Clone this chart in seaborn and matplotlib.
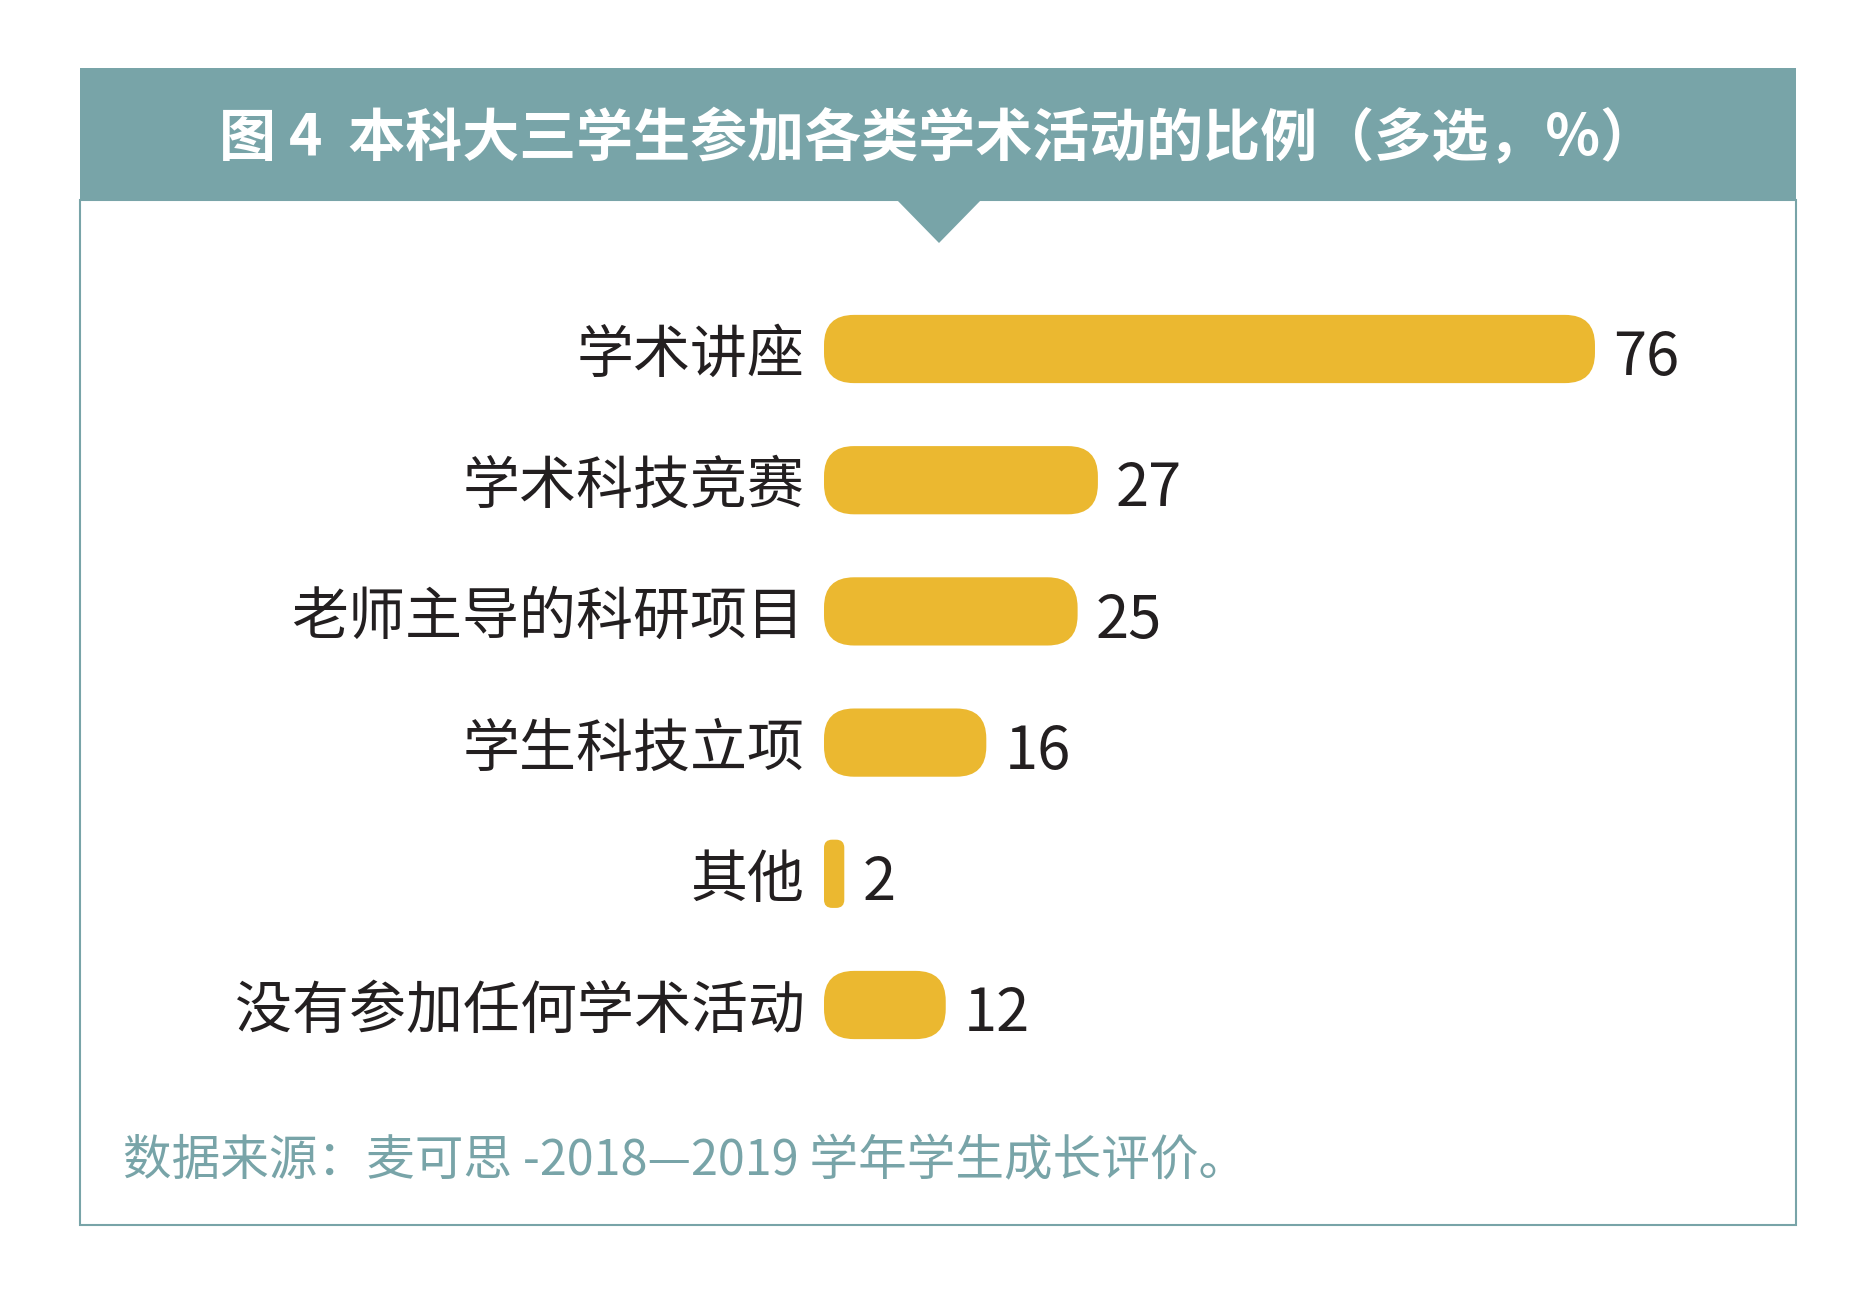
import numpy as np
import pandas as pd
import matplotlib
matplotlib.use("Agg")
import matplotlib.pyplot as plt
import seaborn as sns
from matplotlib.patches import FancyBboxPatch, Rectangle, Polygon

# chart data
categories = ["学术讲座", "学术科技竞赛", "老师主导的科研项目", "学生科技立项", "其他", "没有参加任何学术活动"]
values = [76, 27, 25, 16, 2, 12]

title = "图 4  本科大三学生参加各类学术活动的比例（多选，%）"
source = "数据来源：麦可思 -2018—2019 学年学生成长评价。"

TEAL = "#78A4A8"
BAR = "#EBB830"
DARK = "#231F20"

sns.set_theme(style="white")
plt.rcParams['font.family'] = ['Noto Sans CJK SC', 'DejaVu Sans']

W, H = 1876, 1295
fig = plt.figure(figsize=(W / 100, H / 100), dpi=100)
fig.patch.set_facecolor("white")


def fx(px):
    return px / W


def fy(py):
    return 1 - py / H


# frame, header band and pointer
fig.patches.append(Rectangle((fx(80), fy(1225)), fx(1796) - fx(80), fy(200) - fy(1225),
                             transform=fig.transFigure, facecolor="none",
                             edgecolor=TEAL, linewidth=1.5))
fig.patches.append(Rectangle((fx(80), fy(200)), fx(1796) - fx(80), fy(68) - fy(200),
                             transform=fig.transFigure, facecolor=TEAL, edgecolor="none"))
fig.patches.append(Polygon([(fx(896), fy(199)), (fx(982), fy(199)), (fx(939), fy(243))],
                           closed=True, transform=fig.transFigure,
                           facecolor=TEAL, edgecolor="none"))

fig.text(fx(938), fy(139), title, color="white", fontsize=41, fontweight="bold",
         ha="center", va="center")
fig.text(fx(123), fy(1162), source, color=TEAL, fontsize=35, ha="left", va="center")

# bar area
row = 131.2
top_px = 349 - row / 2
ax = fig.add_axes([fx(824), fy(top_px + 6 * row), fx(913), (6 * row) / H])

df = pd.DataFrame({"cat": categories, "val": values})
sns.barplot(data=df, x="val", y="cat", color=BAR, width=0.52, saturation=1, ax=ax)
ax.set_xlim(0, 90)
ax.set_ylim(5.5, -0.5)

for s in ax.spines.values():
    s.set_visible(False)
ax.set_xticks([])
ax.set_xlabel("")
ax.set_ylabel("")
ax.tick_params(axis="y", length=0, pad=14, labelsize=41, labelcolor=DARK)

# round the bar ends
fig.canvas.draw()
bbox = ax.get_window_extent()
sx = bbox.width / 90
sy = bbox.height / 6
for p in list(ax.patches):
    x0, y0 = p.get_x(), p.get_y()
    w, h = p.get_width(), p.get_height()
    r_px = min(30, w * sx * 0.4)
    rounded = FancyBboxPatch((x0, y0), w, h,
                             boxstyle=f"round,pad=0,rounding_size={r_px / sx}",
                             mutation_aspect=sx / sy,
                             facecolor=BAR, edgecolor="none")
    p.remove()
    ax.add_patch(rounded)

for i, v in enumerate(values):
    ax.annotate(f"{v}", xy=(v, i), xytext=(13, -7), textcoords="offset points",
                ha="left", va="center", fontsize=43, color=DARK)

fig.savefig("out.png", dpi=100, facecolor="white")
plt.close(fig)
